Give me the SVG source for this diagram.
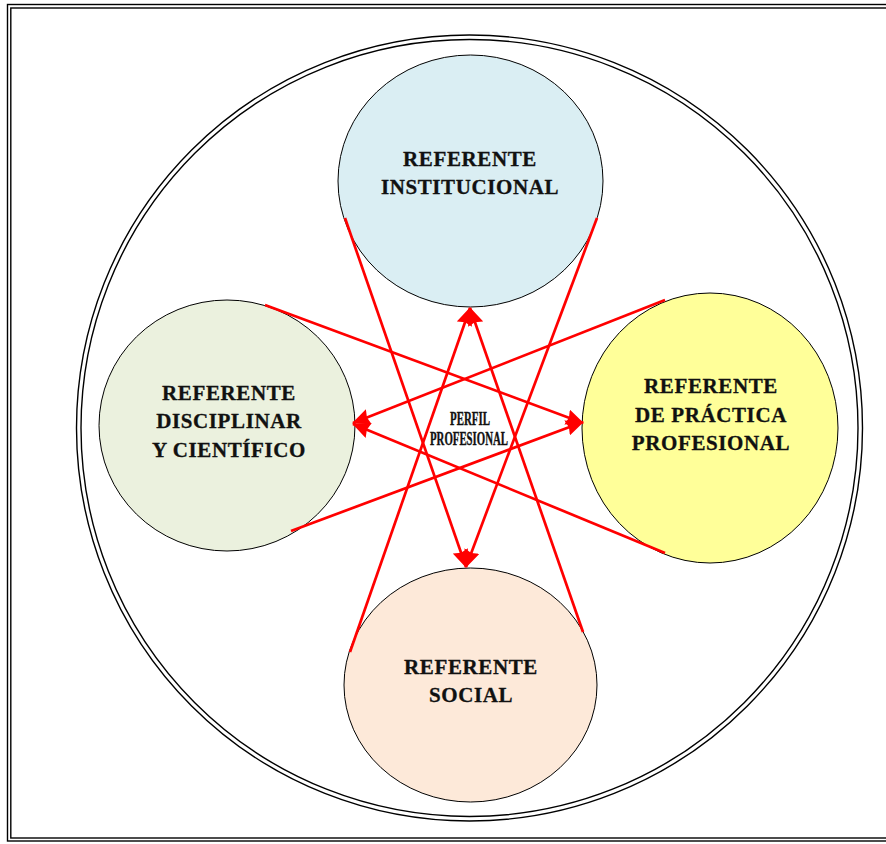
<svg xmlns="http://www.w3.org/2000/svg" width="886" height="844" viewBox="0 0 886 844">
<defs>
<marker id="ah" viewBox="0 0 18 16" refX="17" refY="8" markerWidth="18" markerHeight="16" markerUnits="userSpaceOnUse" orient="auto">
<path d="M0,0 L18,8 L0,16 L2,8 z" fill="#FF0000"/>
</marker>
<style>
.frame{fill:none;stroke:#000;stroke-width:1.4}
.node{stroke:#000;stroke-width:1}
.lbl{font-family:"Liberation Serif","Times New Roman",serif;font-weight:bold;font-size:21px;letter-spacing:0.6px;fill:#111;stroke:#111;stroke-width:0.3;text-anchor:middle}
.small{font-family:"Liberation Serif","Times New Roman",serif;font-weight:bold;font-size:18px;fill:#111;stroke:#111;stroke-width:0.4}
.conn{stroke:#FF0000;stroke-width:2.7;fill:none;marker-end:url(#ah)}
</style>
</defs>
<rect width="886" height="844" fill="#fff"/>
<g id="frame">
<rect class="frame" x="7.5" y="4.5" width="890" height="836.5"/>
<rect class="frame" x="10.8" y="8" width="884" height="830"/>
<circle class="frame" cx="469.5" cy="428" r="393"/>
<circle class="frame" cx="469.5" cy="428" r="388.5"/>
</g>
<g id="n-institucional">
<ellipse class="node" cx="470.5" cy="181" rx="132.5" ry="126" fill="#DAEEF3"/>
<text class="lbl" x="470" y="166">REFERENTE</text>
<text class="lbl" x="470" y="194">INSTITUCIONAL</text>
</g>
<g id="n-disciplinar">
<ellipse class="node" cx="227" cy="425.5" rx="128" ry="125.5" fill="#EBF1DE"/>
<text class="lbl" x="229" y="400">REFERENTE</text>
<text class="lbl" x="229" y="428">DISCIPLINAR</text>
<text class="lbl" x="229" y="457">Y CIENTÍFICO</text>
</g>
<g id="n-practica">
<ellipse class="node" cx="710" cy="428" rx="128" ry="135" fill="#FFFF99"/>
<text class="lbl" x="711" y="393">REFERENTE</text>
<text class="lbl" x="711" y="422">DE PRÁCTICA</text>
<text class="lbl" x="711" y="450">PROFESIONAL</text>
</g>
<g id="n-social">
<ellipse class="node" cx="470.5" cy="685" rx="126.5" ry="117" fill="#FDE9D9"/>
<text class="lbl" x="471" y="674">REFERENTE</text>
<text class="lbl" x="471" y="702">SOCIAL</text>
</g>
<g id="connectors">
<line class="conn" x1="345" y1="218" x2="466" y2="567"/>
<line class="conn" x1="597" y1="218" x2="466" y2="567"/>
<line class="conn" x1="350" y1="652" x2="470" y2="308"/>
<line class="conn" x1="583" y1="632" x2="470" y2="308"/>
<line class="conn" x1="265" y1="305" x2="583" y2="423"/>
<line class="conn" x1="291" y1="531" x2="583" y2="422"/>
<line class="conn" x1="665" y1="300" x2="353" y2="423"/>
<line class="conn" x1="665" y1="553" x2="353" y2="424"/>
</g>
<g id="center-label">
<text class="small" x="450" y="425" textLength="40" lengthAdjust="spacingAndGlyphs">PERFIL</text>
<text class="small" x="430" y="445" textLength="78" lengthAdjust="spacingAndGlyphs">PROFESIONAL</text>
</g>
</svg>
